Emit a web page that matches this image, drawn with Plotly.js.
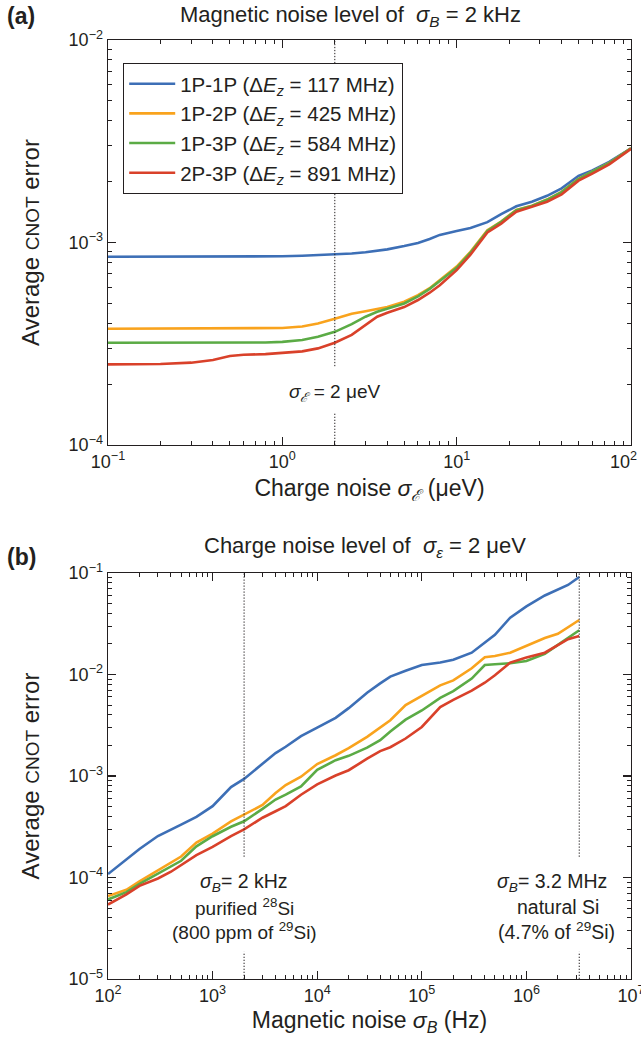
<!DOCTYPE html>
<html><head><meta charset="utf-8">
<script src="https://cdn.plot.ly/plotly-3.0.1.min.js"></script>
<style>html,body{margin:0;padding:0;background:#fff;}</style>
</head><body>
<div id="chart" style="width:641px;height:1043px;"></div>
<script>
// ---------- Series ----------
const seriesNames = [
  "1P-1P (Δ<i>E</i><sub><i>z</i></sub> = 117 MHz)",
  "1P-2P (Δ<i>E</i><sub><i>z</i></sub> = 425 MHz)",
  "1P-3P (Δ<i>E</i><sub><i>z</i></sub> = 584 MHz)",
  "2P-3P (Δ<i>E</i><sub><i>z</i></sub> = 891 MHz)"
];
const seriesColors = ["#3d6fb6", "#f9a31d", "#5bab45", "#d9412a"];

// ---------- Panel (a): charge noise sweep (sigma_B = 2 kHz) ----------
const chargeNoise = [0.1, 0.2, 0.3, 0.4, 0.5, 0.6, 0.8, 1, 1.3, 1.6, 2, 2.5, 3, 3.5, 4, 5, 6, 7, 8, 10, 12, 15, 18, 22, 27, 33, 40, 50, 60, 75, 100];
const a_1P1P = [8.5e-4, 8.5e-4, 8.5e-4, 8.5e-4, 8.5e-4, 8.5e-4, 8.52e-4, 8.55e-4, 8.6e-4, 8.65e-4, 8.72e-4, 8.82e-4, 8.95e-4, 9.1e-4, 9.25e-4, 9.6e-4, 9.95e-4, 1.04e-3, 1.09e-3, 1.14e-3, 1.18e-3, 1.26e-3, 1.38e-3, 1.51e-3, 1.59e-3, 1.70e-3, 1.85e-3, 2.13e-3, 2.27e-3, 2.50e-3, 2.92e-3];
const a_1P2P = [3.75e-4, 3.75e-4, 3.75e-4, 3.75e-4, 3.75e-4, 3.75e-4, 3.76e-4, 3.78e-4, 3.85e-4, 3.98e-4, 4.2e-4, 4.45e-4, 4.58e-4, 4.68e-4, 4.8e-4, 5.1e-4, 5.5e-4, 5.95e-4, 6.5e-4, 7.6e-4, 9.0e-4, 1.15e-3, 1.27e-3, 1.45e-3, 1.52e-3, 1.63e-3, 1.78e-3, 2.06e-3, 2.24e-3, 2.47e-3, 2.92e-3];
const a_1P3P = [3.2e-4, 3.2e-4, 3.2e-4, 3.2e-4, 3.2e-4, 3.2e-4, 3.21e-4, 3.23e-4, 3.3e-4, 3.42e-4, 3.62e-4, 3.95e-4, 4.3e-4, 4.55e-4, 4.7e-4, 5.0e-4, 5.42e-4, 5.9e-4, 6.45e-4, 7.5e-4, 8.9e-4, 1.14e-3, 1.265e-3, 1.445e-3, 1.515e-3, 1.625e-3, 1.775e-3, 2.055e-3, 2.235e-3, 2.465e-3, 2.92e-3];
const a_2P3P = [2.5e-4, 2.51e-4, 2.55e-4, 2.63e-4, 2.75e-4, 2.79e-4, 2.81e-4, 2.84e-4, 2.9e-4, 3.0e-4, 3.2e-4, 3.5e-4, 3.9e-4, 4.3e-4, 4.5e-4, 4.8e-4, 5.2e-4, 5.65e-4, 6.15e-4, 7.3e-4, 8.7e-4, 1.12e-3, 1.24e-3, 1.42e-3, 1.50e-3, 1.59e-3, 1.73e-3, 2.02e-3, 2.19e-3, 2.43e-3, 2.90e-3];

// ---------- Panel (b): magnetic noise sweep (sigma_E = 2 ueV) ----------
const magneticNoise = [100, 150, 200, 300, 400, 500, 700, 1000, 1500, 2000, 3000, 4000, 5000, 7000, 1e4, 1.5e4, 2e4, 3e4, 4e4, 5e4, 7e4, 1e5, 1.5e5, 2e5, 3e5, 4e5, 5e5, 7e5, 1e6, 1.5e6, 2e6, 2.5e6, 3.2e6];
const b_1P1P = [1.08e-4, 1.50e-4, 1.91e-4, 2.56e-4, 2.99e-4, 3.32e-4, 3.95e-4, 5.04e-4, 7.78e-4, 9.35e-4, 1.32e-3, 1.68e-3, 1.94e-3, 2.47e-3, 3.0e-3, 3.74e-3, 4.66e-3, 6.62e-3, 8.17e-3, 9.53e-3, 1.09e-2, 1.24e-2, 1.31e-2, 1.40e-2, 1.64e-2, 2.04e-2, 2.46e-2, 3.63e-2, 4.69e-2, 6.0e-2, 6.82e-2, 7.62e-2, 9.12e-2];
const b_1P2P = [6.56e-5, 7.57e-5, 9.16e-5, 1.18e-4, 1.39e-4, 1.61e-4, 2.21e-4, 2.71e-4, 3.57e-4, 4.17e-4, 5.18e-4, 6.79e-4, 8.15e-4, 9.84e-4, 1.31e-3, 1.60e-3, 1.88e-3, 2.43e-3, 2.99e-3, 3.54e-3, 5.0e-3, 6.11e-3, 7.82e-3, 8.75e-3, 1.15e-2, 1.48e-2, 1.52e-2, 1.64e-2, 1.92e-2, 2.29e-2, 2.52e-2, 2.91e-2, 3.44e-2];
const b_1P3P = [6.07e-5, 7.18e-5, 8.63e-5, 1.09e-4, 1.27e-4, 1.46e-4, 2.03e-4, 2.55e-4, 3.16e-4, 3.58e-4, 4.75e-4, 5.86e-4, 6.55e-4, 7.89e-4, 1.15e-3, 1.43e-3, 1.58e-3, 1.90e-3, 2.25e-3, 2.75e-3, 3.59e-3, 4.42e-3, 5.89e-3, 6.86e-3, 9.12e-3, 1.24e-2, 1.26e-2, 1.29e-2, 1.36e-2, 1.60e-2, 1.96e-2, 2.29e-2, 2.73e-2];
const b_2P3P = [5.41e-5, 6.81e-5, 8.26e-5, 9.77e-5, 1.14e-4, 1.33e-4, 1.66e-4, 2.0e-4, 2.56e-4, 2.98e-4, 3.88e-4, 4.49e-4, 5.05e-4, 6.53e-4, 8.26e-4, 1.01e-3, 1.14e-3, 1.48e-3, 1.76e-3, 1.92e-3, 2.34e-3, 3.04e-3, 4.78e-3, 5.62e-3, 6.93e-3, 8.30e-3, 9.82e-3, 1.31e-2, 1.47e-2, 1.64e-2, 1.94e-2, 2.23e-2, 2.39e-2];

// Reference levels (dotted lines)
const refChargeA = 2;          // ueV
const refMagB = [2000, 3.2e6]; // Hz

// Tick labels
const NB = "\u00A0";
const aXTicks = [0.1, 1, 10, 100];
const aXTickText = ["10<sup>−1</sup>", "10<sup>0</sup>", "10<sup>1</sup>", "10<sup>2</sup>" + NB + NB + NB];
const aYTicks = [1e-4, 1e-3, 1e-2];
const aYTickText = ["10<sup>−4</sup>", "10<sup>−3</sup>", "10<sup>−2</sup>"];
const bXTicks = [1e2, 1e3, 1e4, 1e5, 1e6, 1e7];
const bXTickText = ["10<sup>2</sup>", "10<sup>3</sup>", "10<sup>4</sup>", "10<sup>5</sup>", "10<sup>6</sup>", "10<sup>7</sup>"];
const bYTicks = [1e-5, 1e-4, 1e-3, 1e-2, 1e-1];
const bYTickText = ["10<sup>−5</sup>", "10<sup>−4</sup>", "10<sup>−3</sup>", "10<sup>−2</sup>", "10<sup>−1</sup>"];

// ---------- build ----------
function minorVals(lo, hi) {
  const out = [];
  for (let e = lo; e < hi; e++) for (let m = 2; m <= 9; m++) out.push(m * Math.pow(10, e));
  return out;
}
const FONT = "Liberation Sans, Arial, sans-serif";
const INK = "#231f20";
const DOT = "1.3px,1.7px";

const aSeries = [a_1P1P, a_1P2P, a_1P3P, a_2P3P];
const bSeries = [b_1P1P, b_1P2P, b_1P3P, b_2P3P];
const traces = [];
aSeries.forEach((ys, i) => traces.push({
  x: chargeNoise, y: ys, xaxis: "x", yaxis: "y", type: "scatter", mode: "lines",
  name: seriesNames[i], legendgroup: "g" + i, showlegend: true,
  line: {color: seriesColors[i], width: 2.6}
}));
bSeries.forEach((ys, i) => traces.push({
  x: magneticNoise, y: ys, xaxis: "x2", yaxis: "y2", type: "scatter", mode: "lines",
  name: seriesNames[i], legendgroup: "g" + i, showlegend: false,
  line: {color: seriesColors[i], width: 2.6}
}));

const TICKFONT = {family: FONT, size: 18, color: INK};
function axisBase(extra) {
  return Object.assign({
    type: "log", showgrid: false, zeroline: false,
    showline: true, linecolor: INK, linewidth: 1.4, mirror: "ticks",
    ticks: "inside", ticklen: 8, tickwidth: 1.1, tickcolor: INK,
    tickmode: "array", ticklabeloverflow: "allow",
    tickfont: TICKFONT
  }, extra);
}
function minorCfg(lo, hi) {
  return {tickmode: "array", tickvals: minorVals(lo, hi), ticks: "inside", ticklen: 4, tickwidth: 1, tickcolor: INK};
}
const TITLEFONT = {family: FONT, size: 23, color: INK};
const YTITLEFONT = {family: FONT, size: 24, color: INK};
const yTitle = "Average <span style='font-size:19px'>CNOT</span> error";

const layout = {
  width: 641, height: 1043,
  margin: {l: 108, r: 10, t: 40, b: 64},
  paper_bgcolor: "#fff", plot_bgcolor: "#fff",
  font: {family: FONT, color: INK},
  showlegend: true,
  legend: {
    x: 0.0287, y: 0.9758, xanchor: "left", yanchor: "top",
    bgcolor: "#fff", bordercolor: INK, borderwidth: 1.2,
    font: {family: FONT, size: 20.5, color: INK},
    traceorder: "grouped", tracegroupgap: 0, itemwidth: 46
  },
  xaxis: axisBase({domain: [0, 1], anchor: "y", range: [-1, 2],
    tickvals: aXTicks, ticktext: aXTickText, minor: minorCfg(-1, 2),
    title: {text: "Charge noise <i>σ</i><sub><i>ℰ</i></sub> (μeV)", standoff: 9, font: TITLEFONT}}),
  yaxis: axisBase({domain: [0.5687, 1], anchor: "x", range: [-4, -2],
    tickvals: aYTicks, ticktext: aYTickText, minor: minorCfg(-4, -2),
    title: {text: yTitle, standoff: 22, font: YTITLEFONT}}),
  xaxis2: axisBase({domain: [0, 1], anchor: "y2", range: [2, 7],
    tickvals: bXTicks, ticktext: bXTickText, minor: minorCfg(2, 7),
    title: {text: "Magnetic noise <i>σ</i><sub><i>B</i></sub> (Hz)", standoff: 7, font: TITLEFONT}}),
  yaxis2: axisBase({domain: [0, 0.4324], anchor: "x2", range: [-5, -1],
    tickvals: bYTicks, ticktext: bYTickText, minor: minorCfg(-5, -1),
    title: {text: yTitle, standoff: 22, font: YTITLEFONT}}),
  shapes: [
    {type: "line", xref: "x", yref: "y", x0: refChargeA, x1: refChargeA, y0: 2.45e-4, y1: 1e-2, line: {color: INK, width: 1, dash: DOT}},
    {type: "line", xref: "x", yref: "y", x0: refChargeA, x1: refChargeA, y0: 1e-4, y1: 1.45e-4, line: {color: INK, width: 1, dash: DOT}},
    {type: "line", xref: "x2", yref: "y2", x0: refMagB[0], x1: refMagB[0], y0: 1.6e-4, y1: 1e-1, line: {color: INK, width: 1, dash: DOT}},
    {type: "line", xref: "x2", yref: "y2", x0: refMagB[0], x1: refMagB[0], y0: 1e-5, y1: 1.85e-5, line: {color: INK, width: 1, dash: DOT}},
    {type: "line", xref: "x2", yref: "y2", x0: refMagB[1], x1: refMagB[1], y0: 1.6e-4, y1: 1e-1, line: {color: INK, width: 1, dash: DOT}},
    {type: "line", xref: "x2", yref: "y2", x0: refMagB[1], x1: refMagB[1], y0: 1e-5, y1: 1.85e-5, line: {color: INK, width: 1, dash: DOT}}
  ],
  annotations: [
    {xref: "paper", yref: "paper", x: -0.197, y: 1.0256, xanchor: "left", yanchor: "middle", showarrow: false,
     text: "<b>(a)</b>", font: {family: FONT, size: 23, color: INK}},
    {xref: "paper", yref: "paper", x: 0.4646, y: 1.0256, xanchor: "center", yanchor: "middle", showarrow: false,
     text: "Magnetic noise level of  <i>σ</i><sub><i>B</i></sub> = 2 kHz", font: {family: FONT, size: 22, color: INK}},
    {xref: "paper", yref: "paper", x: -0.197, y: 0.4494, xanchor: "left", yanchor: "middle", showarrow: false,
     text: "<b>(b)</b>", font: {family: FONT, size: 23, color: INK}},
    {xref: "paper", yref: "paper", x: 0.491, y: 0.46, xanchor: "center", yanchor: "middle", showarrow: false,
     text: "Charge noise level of  <i>σ</i><sub><i>ε</i></sub> = 2 μeV", font: {family: FONT, size: 22, color: INK}},
    {xref: "x", yref: "y", x: Math.log10(refChargeA), y: -3.743, xanchor: "center", yanchor: "middle", showarrow: false,
     text: "<i>σ</i><sub><i>ℰ</i></sub> = 2 μeV", font: {family: FONT, size: 19, color: INK}},
    {xref: "x2", yref: "y2", x: Math.log10(refMagB[0]), y: -4.05, xanchor: "center", yanchor: "middle", showarrow: false,
     text: "<i>σ</i><sub><i>B</i></sub>= 2 kHz", font: {family: FONT, size: 19.5, color: INK}},
    {xref: "x2", yref: "y2", x: Math.log10(refMagB[0]), y: -4.29, xanchor: "center", yanchor: "middle", showarrow: false,
     text: "purified <sup>28</sup>Si", font: {family: FONT, size: 19, color: INK}},
    {xref: "x2", yref: "y2", x: Math.log10(refMagB[0]), y: -4.53, xanchor: "center", yanchor: "middle", showarrow: false,
     text: "(800 ppm of <sup>29</sup>Si)", font: {family: FONT, size: 19, color: INK}},
    {xref: "x2", yref: "y2", x: Math.log10(refMagB[1]) - 0.26, y: -4.05, xanchor: "center", yanchor: "middle", showarrow: false,
     text: "<i>σ</i><sub><i>B</i></sub>= 3.2 MHz", font: {family: FONT, size: 19.5, color: INK}},
    {xref: "x2", yref: "y2", x: Math.log10(refMagB[1]) - 0.2, y: -4.29, xanchor: "center", yanchor: "middle", showarrow: false,
     text: "natural Si", font: {family: FONT, size: 19.5, color: INK}},
    {xref: "x2", yref: "y2", x: Math.log10(refMagB[1]) - 0.22, y: -4.53, xanchor: "center", yanchor: "middle", showarrow: false,
     text: "(4.7% of <sup>29</sup>Si)", font: {family: FONT, size: 19.5, color: INK}}
  ]
};

Plotly.newPlot("chart", traces, layout, {staticPlot: true, displayModeBar: false});
</script>
</body></html>
